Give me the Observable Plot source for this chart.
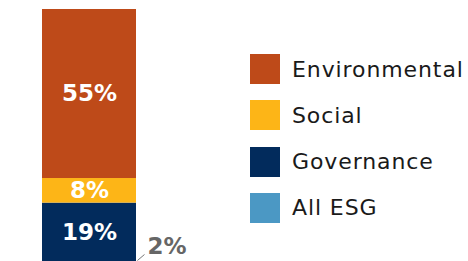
<!DOCTYPE html>
<html><head><meta charset="utf-8">
<script src="https://cdn.jsdelivr.net/npm/d3@7"></script>
<script src="https://cdn.jsdelivr.net/npm/@observablehq/plot@0.6"></script>
<style>
body{margin:0;background:#fff;}
#wrap{position:relative;width:468px;height:261px;overflow:hidden;}
#legend{position:absolute;left:250px;top:54px;font-family:"DejaVu Sans",sans-serif;font-size:22px;letter-spacing:0.9px;color:#1a1a1a;}
.item{display:flex;align-items:center;height:30px;margin-bottom:16.3px;white-space:nowrap;}
.sw{width:30px;height:30px;margin-right:12px;flex:none;}
</style></head><body><div id="wrap"></div>
<script>
// stacked bottom to top
const categories = ["All ESG", "Governance", "Social", "Environmental"];
const values = [2, 19, 8, 55];
const labels = ["2%", "19%", "8%", "55%"];
const colors = ["#4B98C4", "#022B5C", "#FDB517", "#BE4A19"];
const legendOrder = ["Environmental", "Social", "Governance", "All ESG"];

const data = categories.map((c, i) => ({category: c, value: values[i], label: labels[i]}));
const small = data[0];

const chart = Plot.plot({
  width: 468, height: 261,
  marginTop: 9, marginBottom: 0, marginLeft: 0, marginRight: 0,
  style: {fontFamily: "DejaVu Sans, sans-serif", background: "white"},
  x: {domain: [0, 1], range: [42, 136], axis: null},
  y: {domain: [2, 84], axis: null},
  color: {domain: categories, range: colors},
  marks: [
    Plot.rectY(data, Plot.stackY({x1: 0, x2: 1, y: "value", fill: "category", order: null, clip: true})),
    Plot.text(data, Plot.stackY({x: 0.5, y: "value", order: null,
      text: d => d.category === small.category ? "" : d.label,
      fill: "white", fontWeight: "bold", fontSize: 23})),
    Plot.link([small], {x1: 1.01, y1: d => d.value + 0.33, x2: 1.085, y2: d => d.value + 2.28,
      stroke: "#777", strokeWidth: 1}),
    Plot.text([small], {x: 1.085, y: d => d.value + 2.28, text: "label", dx: 3, dy: -7.5,
      textAnchor: "start", fill: "#666", fontWeight: "bold", fontSize: 23})
  ]
});
const wrap = document.getElementById("wrap");
wrap.appendChild(chart);

const legend = document.createElement("div");
legend.id = "legend";
legendOrder.forEach(name => {
  const item = document.createElement("div");
  item.className = "item";
  const sw = document.createElement("div");
  sw.className = "sw";
  sw.style.background = colors[categories.indexOf(name)];
  const t = document.createElement("span");
  t.textContent = name;
  item.appendChild(sw);
  item.appendChild(t);
  legend.appendChild(item);
});
wrap.appendChild(legend);
</script></body></html>
